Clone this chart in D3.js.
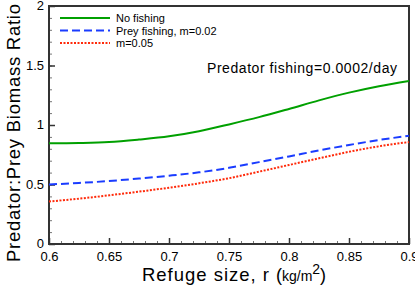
<!DOCTYPE html>
<html>
<head>
<meta charset="utf-8">
<script src="https://cdn.jsdelivr.net/npm/d3@7"></script>
<style>
  body { margin: 0; background: #fff; }
  svg { display: block; font-family: "Liberation Sans", Arial, sans-serif; }
</style>
</head>
<body>
<div id="chart"></div>
<script>
// refuge size values (kg/m^2)
const refuge = [0.6, 0.625, 0.65, 0.675, 0.7, 0.725, 0.75, 0.775, 0.8, 0.825, 0.85, 0.875, 0.9];
// predator:prey biomass ratio per scenario
const noFishing = [0.846, 0.849, 0.857, 0.878, 0.905, 0.948, 1.005, 1.066, 1.135, 1.207, 1.272, 1.326, 1.37];
const preyFishing02 = [0.5, 0.513, 0.529, 0.55, 0.574, 0.602, 0.64, 0.688, 0.736, 0.786, 0.832, 0.874, 0.91];
const preyFishing05 = [0.357, 0.381, 0.409, 0.44, 0.473, 0.51, 0.553, 0.608, 0.664, 0.72, 0.775, 0.821, 0.857];

const seriesNames = ['No fishing', 'Prey fishing, m=0.02', 'm=0.05'];
const xTicks = [0.6, 0.65, 0.7, 0.75, 0.8, 0.85, 0.9];
const yTicks = [0, 0.5, 1, 1.5, 2];

const width = 415, height = 293;
const margin = {top: 6, right: 6, bottom: 49, left: 49};

const svg = d3.select('#chart').append('svg')
    .attr('width', width)
    .attr('height', height);

const x = d3.scaleLinear().domain([0.6, 0.9]).range([margin.left, width - margin.right]);
const y = d3.scaleLinear().domain([0, 2]).range([height - margin.bottom, margin.top]);

const frameColor = '#333';

// minor ticks
const xMinor = d3.range(60, 91).map(d => d / 100);
const yMinor = d3.range(0, 21).map(d => d / 10);

svg.append('g')
    .attr('transform', `translate(0,${y(0)})`)
    .call(d3.axisBottom(x).tickValues(xMinor).tickSize(-3).tickFormat(''))
    .call(g => g.select('.domain').remove())
    .call(g => g.selectAll('line').attr('stroke', '#777'));

svg.append('g')
    .attr('transform', `translate(0,${y(0)})`)
    .call(d3.axisBottom(x).tickValues(xTicks).tickSize(-6).tickPadding(8)
        .tickFormat(d => String(+d.toFixed(2))))
    .call(g => g.select('.domain').remove())
    .call(g => g.selectAll('line').attr('stroke', frameColor).attr('stroke-width', 1.5))
    .call(g => g.selectAll('text').attr('font-size', 13).attr('fill', '#000')
        .attr('font-family', '"Liberation Sans", Arial, sans-serif'));

svg.append('g')
    .attr('transform', `translate(${x(0.6)},0)`)
    .call(d3.axisLeft(y).tickValues(yMinor).tickSize(-3).tickFormat(''))
    .call(g => g.select('.domain').remove())
    .call(g => g.selectAll('line').attr('stroke', '#777'));

svg.append('g')
    .attr('transform', `translate(${x(0.6)},0)`)
    .call(d3.axisLeft(y).tickValues(yTicks).tickSize(-6).tickPadding(5)
        .tickFormat(d => String(d)))
    .call(g => g.select('.domain').remove())
    .call(g => g.selectAll('line').attr('stroke', frameColor).attr('stroke-width', 1.5))
    .call(g => g.selectAll('text').attr('font-size', 13).attr('fill', '#000')
        .attr('dy', '0.3em')
        .attr('font-family', '"Liberation Sans", Arial, sans-serif'));

// frame
svg.append('rect')
    .attr('x', x(0.6)).attr('y', y(2))
    .attr('width', x(0.9) - x(0.6)).attr('height', y(0) - y(2))
    .attr('fill', 'none')
    .attr('stroke', frameColor)
    .attr('stroke-width', 2);

const line = d3.line()
    .x((d, i) => x(refuge[i]))
    .y(d => y(d))
    .curve(d3.curveMonotoneX);

const series = [
    {name: seriesNames[0], values: noFishing, color: '#00a000', dash: null},
    {name: seriesNames[1], values: preyFishing02, color: '#1a3cff', dash: '8,4'},
    {name: seriesNames[2], values: preyFishing05, color: '#ff2a0a', dash: '2,1.5'}
];

series.forEach(s => {
    svg.append('path')
        .datum(s.values)
        .attr('d', line)
        .attr('fill', 'none')
        .attr('stroke', s.color)
        .attr('stroke-width', 2)
        .attr('stroke-dasharray', s.dash);
});

// legend
const legend = svg.append('g');
series.forEach((s, i) => {
    const ly = 18 + i * 12.5;
    legend.append('line')
        .attr('x1', 60).attr('x2', 110)
        .attr('y1', ly).attr('y2', ly)
        .attr('stroke', s.color)
        .attr('stroke-width', 2)
        .attr('stroke-dasharray', s.dash);
    legend.append('text')
        .attr('x', 116).attr('y', ly + 4)
        .attr('font-size', 11)
        .text(s.name);
});

svg.append('text')
    .attr('x', 207).attr('y', 73)
    .attr('font-size', 14)
    .attr('textLength', 190)
    .text('Predator fishing=0.0002/day');

// axis titles
svg.append('text')
    .attr('transform', `translate(20,${133}) rotate(-90)`)
    .attr('text-anchor', 'middle')
    .attr('font-size', 18.5)
    .attr('textLength', 258)
    .text('Predator:Prey Biomass Ratio');

const xTitle = svg.append('text')
    .attr('x', 142).attr('y', 281)
    .attr('font-size', 18.5);
xTitle.append('tspan').attr('textLength', 133).text('Refuge size, r ');
xTitle.append('tspan').attr('font-size', 18).text('(');
xTitle.append('tspan').attr('font-size', 14).text('kg/m');
xTitle.append('tspan').attr('font-size', 14).attr('dy', -7).text('2');
xTitle.append('tspan').attr('font-size', 18).attr('dy', 7).text(')');
</script>
</body>
</html>
